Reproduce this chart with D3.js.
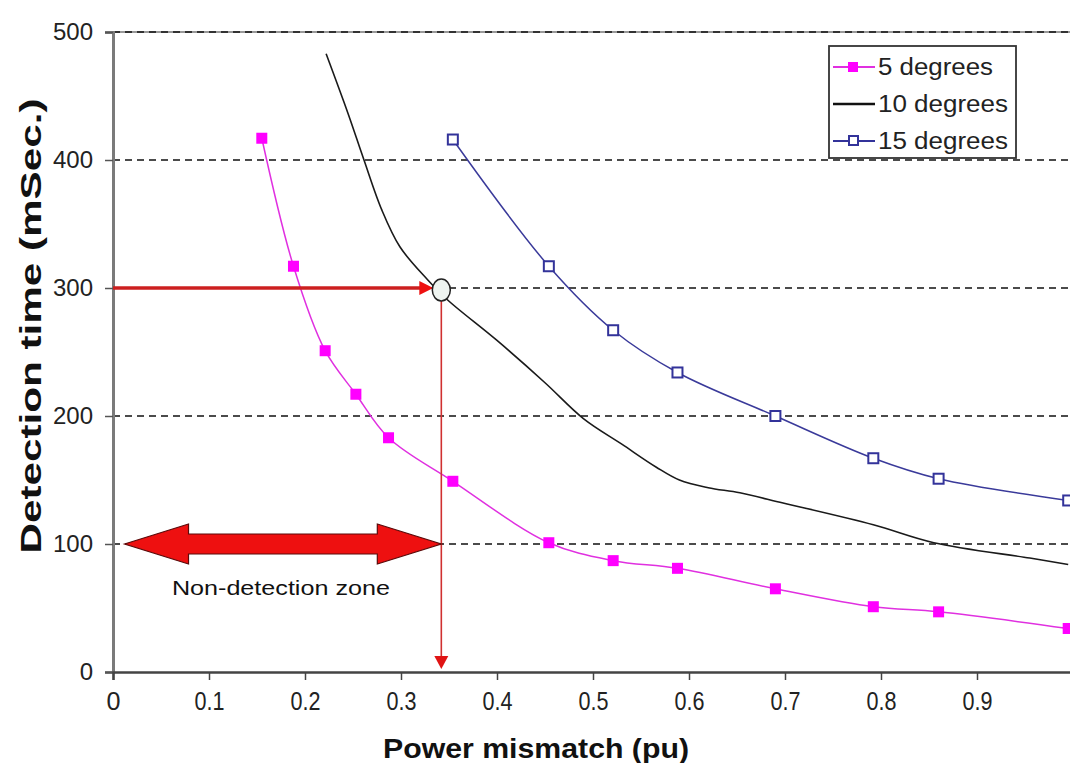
<!DOCTYPE html>
<html>
<head>
<meta charset="utf-8">
<script src="https://cdn.jsdelivr.net/npm/d3@7/dist/d3.min.js"></script>
<style>
  html, body { margin: 0; padding: 0; background: #fff; }
  svg { display: block; font-family: "Liberation Sans", Arial, sans-serif; }
</style>
</head>
<body>
<svg id="chart" width="1070" height="763"></svg>
<script>
// Detection time vs power mismatch for three phase-angle settings
const xTicks = [0, 0.1, 0.2, 0.3, 0.4, 0.5, 0.6, 0.7, 0.8, 0.9];
const yTicks = [0, 100, 200, 300, 400, 500];

const deg5X = [0.155, 0.188, 0.221, 0.253, 0.287, 0.354, 0.454, 0.521, 0.588, 0.690, 0.792, 0.860, 0.995];
const deg5Y = [417, 317, 251, 217, 183, 149, 101, 87, 81, 65, 51, 47, 34];

const deg10X = [0.222, 0.245, 0.261, 0.280, 0.299, 0.327, 0.348, 0.400, 0.450, 0.490, 0.530, 0.566, 0.590, 0.620, 0.653, 0.698, 0.792, 0.855, 0.955, 0.995];
const deg10Y = [483, 436, 401, 361, 332, 307, 291, 259, 226, 198, 178, 160, 150, 144, 140, 132, 115, 101, 89, 84];

const deg15X = [0.354, 0.454, 0.521, 0.588, 0.690, 0.792, 0.860, 0.995];
const deg15Y = [416, 317, 267, 234, 200, 167, 151, 134];

const seriesNames = ["5 degrees", "10 degrees", "15 degrees"];

// Operating point picked out on the 10-degree curve
const markTime = 300;
const markMismatch = 0.342;
const zoneLabel = "Non-detection zone";

const svg = d3.select("#chart");
const x = d3.scaleLinear().domain([0, 1]).range([113, 1073]);
const y = d3.scaleLinear().domain([0, 500]).range([672, 32]);

svg.append("rect").attr("width", 1070).attr("height", 763).attr("fill", "#fff");

// Horizontal dashed gridlines
const grid = svg.append("g");
grid.append("line")
  .attr("x1", x(0)).attr("x2", 1070).attr("y1", y(500)).attr("y2", y(500))
  .attr("stroke", "#999").attr("stroke-width", 2);
grid.selectAll("line.g").data(yTicks.filter(d => d > 0)).join("line")
  .attr("class", "g")
  .attr("x1", x(0)).attr("x2", 1070)
  .attr("y1", d => y(d)).attr("y2", d => y(d))
  .attr("stroke", "#111").attr("stroke-width", 1.6)
  .attr("stroke-dasharray", "7,5");

// Axes
const yAxis = d3.axisLeft(y).tickValues(yTicks).tickSize(8).tickPadding(12).tickFormat(d3.format("d"));
const xAxis = d3.axisBottom(x).tickValues(xTicks).tickSize(8).tickPadding(12)
  .tickFormat(d => d === 0 ? "0" : d3.format(".1f")(d));

const gy = svg.append("g").attr("transform", `translate(${x(0)},0)`).call(yAxis);
gy.select(".domain").attr("stroke", "#7a7a7a").attr("stroke-width", 3);
gy.selectAll(".tick line").attr("stroke", "#555").attr("stroke-width", 1.5);
gy.selectAll(".tick text").attr("font-size", 24).attr("fill", "#222")
  .attr("font-family", "Liberation Sans, Arial, sans-serif");

const gx = svg.append("g").attr("transform", `translate(0,${y(0)})`).call(xAxis);
gx.select(".domain").attr("stroke", "#444").attr("stroke-width", 2.5);
gx.selectAll(".tick line").attr("stroke", "#444").attr("stroke-width", 1.5);
gx.selectAll(".tick text").attr("font-size", 26).attr("fill", "#222")
  .attr("font-family", "Liberation Sans, Arial, sans-serif")
  .attr("textLength", d => d === 0 ? 14 : 30)
  .attr("lengthAdjust", "spacingAndGlyphs");

// Axis titles
svg.append("text")
  .attr("transform", "translate(41,326) rotate(-90)")
  .attr("text-anchor", "middle")
  .attr("font-size", 30).attr("font-weight", "bold").attr("fill", "#111")
  .attr("textLength", 455).attr("lengthAdjust", "spacingAndGlyphs")
  .text("Detection time (mSec.)");

svg.append("text")
  .attr("x", 536).attr("y", 758)
  .attr("text-anchor", "middle")
  .attr("font-size", 28).attr("font-weight", "bold").attr("fill", "#111")
  .attr("textLength", 306).attr("lengthAdjust", "spacingAndGlyphs")
  .text("Power mismatch (pu)");

// Series
const smooth = d3.line().x(d => x(d[0])).y(d => y(d[1])).curve(d3.curveCatmullRom.alpha(0.5));
const pts5 = deg5X.map((v, i) => [v, deg5Y[i]]);
const pts10 = deg10X.map((v, i) => [v, deg10Y[i]]);
const pts15 = deg15X.map((v, i) => [v, deg15Y[i]]);

const plot = svg.append("g");
plot.append("path").datum(pts10).attr("d", smooth)
  .attr("fill", "none").attr("stroke", "#1a1a1a").attr("stroke-width", 1.6);
plot.append("path").datum(pts15).attr("d", smooth)
  .attr("fill", "none").attr("stroke", "#3a3a9a").attr("stroke-width", 1.5);
plot.append("path").datum(pts5).attr("d", smooth)
  .attr("fill", "none").attr("stroke", "#e030e0").attr("stroke-width", 1.5);

plot.selectAll("rect.m15").data(pts15).join("rect")
  .attr("class", "m15")
  .attr("x", d => x(d[0]) - 5).attr("y", d => y(d[1]) - 5)
  .attr("width", 10).attr("height", 10)
  .attr("fill", "#fff").attr("stroke", "#33339a").attr("stroke-width", 2);
plot.selectAll("rect.m5").data(pts5).join("rect")
  .attr("class", "m5")
  .attr("x", d => x(d[0]) - 5.5).attr("y", d => y(d[1]) - 5.5)
  .attr("width", 11).attr("height", 11)
  .attr("fill", "#ff00ff");

// Annotation: horizontal arrow at the chosen time
const red = "#cc1f1f";
const ann = svg.append("g");
const cx = x(markMismatch), cy = y(markTime) + 2;
ann.append("line")
  .attr("x1", x(0)).attr("x2", cx - 18).attr("y1", y(markTime)).attr("y2", y(markTime))
  .attr("stroke", red).attr("stroke-width", 3.5);
ann.append("path")
  .attr("d", `M${cx - 8},${y(markTime)} L${cx - 22},${y(markTime) - 7} L${cx - 22},${y(markTime) + 7} Z`)
  .attr("fill", "#ee1111");

// Vertical drop line to the mismatch axis
ann.append("line")
  .attr("x1", cx).attr("x2", cx).attr("y1", cy + 11).attr("y2", y(0) - 14)
  .attr("stroke", "#d03030").attr("stroke-width", 1.6);
ann.append("path")
  .attr("d", `M${cx},${y(0) - 3} L${cx - 7},${y(0) - 16} L${cx + 7},${y(0) - 16} Z`)
  .attr("fill", "#e01414");

ann.append("ellipse")
  .attr("cx", cx).attr("cy", cy).attr("rx", 9).attr("ry", 11)
  .attr("fill", "#eef4f0").attr("stroke", "#222").attr("stroke-width", 1.5);

// Double-headed arrow marking the non-detection zone
const ax0 = x(0.012), ax1 = x(markMismatch), ay = y(100);
const headLen = 64, headHalf = 20, shaftHalf = 10;
ann.append("path")
  .attr("d", [
    `M${ax0},${ay}`,
    `L${ax0 + headLen},${ay - headHalf}`,
    `L${ax0 + headLen},${ay - shaftHalf}`,
    `L${ax1 - headLen},${ay - shaftHalf}`,
    `L${ax1 - headLen},${ay - headHalf}`,
    `L${ax1},${ay}`,
    `L${ax1 - headLen},${ay + headHalf}`,
    `L${ax1 - headLen},${ay + shaftHalf}`,
    `L${ax0 + headLen},${ay + shaftHalf}`,
    `L${ax0 + headLen},${ay + headHalf}`,
    "Z"
  ].join(" "))
  .attr("fill", "#ee1010").attr("stroke", "#5a0a0a").attr("stroke-width", 1.2);

ann.append("text")
  .attr("x", (ax0 + ax1) / 2 - 2).attr("y", 595)
  .attr("text-anchor", "middle")
  .attr("font-size", 20).attr("fill", "#111")
  .attr("textLength", 218).attr("lengthAdjust", "spacingAndGlyphs")
  .text(zoneLabel);

// Legend
const lg = svg.append("g");
lg.append("rect")
  .attr("x", 829).attr("y", 46).attr("width", 187).attr("height", 112)
  .attr("fill", "#fff").attr("stroke", "#333").attr("stroke-width", 1.8);
const rows = [75, 112, 149];
const rowColors = ["#e030e0", "#111", "#33339a"];
const textLens = [115, 130, 130];
seriesNames.forEach((name, i) => {
  const ry = rows[i] - 8;
  lg.append("line").attr("x1", 833).attr("x2", 875).attr("y1", ry).attr("y2", ry)
    .attr("stroke", rowColors[i]).attr("stroke-width", i === 1 ? 2.5 : 2);
  if (i === 0) {
    lg.append("rect").attr("x", 848).attr("y", ry - 5).attr("width", 10).attr("height", 10).attr("fill", "#ff00ff");
  } else if (i === 2) {
    lg.append("rect").attr("x", 849).attr("y", ry - 5).attr("width", 9).attr("height", 9)
      .attr("fill", "#fff").attr("stroke", "#33339a").attr("stroke-width", 2);
  }
  lg.append("text").attr("x", 878).attr("y", rows[i])
    .attr("font-size", 23).attr("fill", "#222")
    .attr("textLength", textLens[i]).attr("lengthAdjust", "spacingAndGlyphs")
    .text(name);
});
</script>
</body>
</html>
